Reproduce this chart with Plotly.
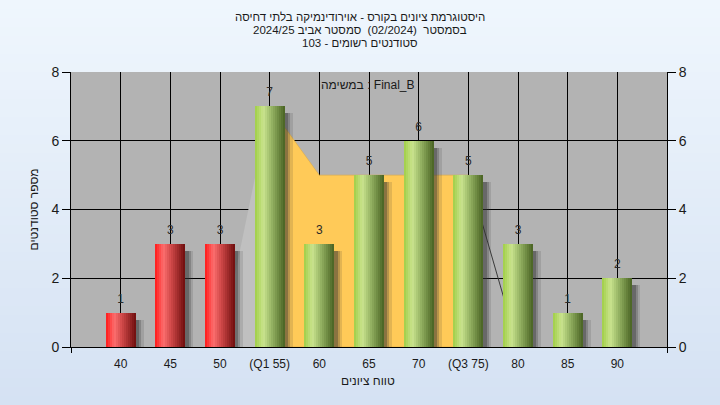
import plotly.graph_objects as go

# ---------------- data ----------------
categories = ["40", "45", "50", "(Q1 55)", "60", "65", "70", "(Q3 75)", "80", "85", "90"]
counts = [1, 3, 3, 7, 3, 5, 6, 5, 3, 1, 2]
bar_group = ["fail", "fail", "fail", "pass", "pass", "pass", "pass", "pass", "pass", "pass", "pass"]
area_vals = [None, None, 0, 7, 5, 5, 5, 5, 0, None, None]
y_ticks = [0, 2, 4, 6, 8]

title_lines = [
    "היסטוגרמת ציונים בקורס - אוירודינמיקה בלתי דחיסה",
    "בסמסטר  (02/2024)  סמסטר אביב 2024/25",
    "סטודנטים רשומים - 103",
]
task_label = "במשימה : Final_B"
x_title = "טווח ציונים"
y_title = "מספר סטודנטים"

# ---------------- layout constants ----------------
W, H = 720, 405
ML, MR, MT, MB = 71, 53, 72, 58
PW, PH = W - ML - MR, H - MT - MB
FONT = "Liberation Sans, Arial, DejaVu Sans, sans-serif"
TXT = "#1a1a1a"

pos = list(range(1, len(categories) + 1))
bar_w = 0.6
N_STRIPS = 15


def lerp(c1, c2, t):
    return tuple(round(a + (b - a) * t) for a, b in zip(c1, c2))


def grad(stops, t):
    for (t0, c0), (t1, c1) in zip(stops, stops[1:]):
        if t0 <= t <= t1:
            return "rgb(%d,%d,%d)" % lerp(c0, c1, (t - t0) / (t1 - t0))
    return "rgb(%d,%d,%d)" % stops[-1][1]


grad_stops = {
    "fail": [(0.0, (255, 25, 25)), (0.28, (252, 110, 110)), (0.55, (205, 70, 70)), (1.0, (110, 14, 14))],
    "pass": [(0.0, (160, 206, 70)), (0.28, (202, 228, 142)), (0.55, (150, 180, 100)), (1.0, (72, 98, 34))],
}

fig = go.Figure()

# ---- shadows ----
for dx, op in [(0.16, 0.14), (0.11, 0.24), (0.07, 0.34)]:
    fig.add_trace(go.Bar(
        x=pos, y=[max(v - 0.2, 0) for v in counts], width=bar_w, offset=-bar_w / 2 + dx,
        marker=dict(color="rgba(50,50,50,%.2f)" % op, line=dict(width=0)),
        hoverinfo="skip", showlegend=False))

# ---- gradient bars ----
sw = bar_w / N_STRIPS
for grp in ["fail", "pass"]:
    gx = [p for p, g in zip(pos, bar_group) if g == grp]
    gy = [c for c, g in zip(counts, bar_group) if g == grp]
    for s in range(N_STRIPS):
        t = (s + 0.5) / N_STRIPS
        fig.add_trace(go.Bar(
            x=gx, y=gy, width=sw * 1.08, offset=-bar_w / 2 + s * sw,
            marker=dict(color=grad(grad_stops[grp], t), line=dict(width=0)),
            hoverinfo="skip", showlegend=False))

# ---- value labels ----
fig.add_trace(go.Scatter(
    x=pos, y=[c + 0.38 for c in counts], text=[str(c) for c in counts],
    mode="text", textfont=dict(family=FONT, size=12, color="#2a2a2a"),
    hoverinfo="skip", showlegend=False))

# invisible trace for right axis
fig.add_trace(go.Scatter(x=[pos[0]], y=[0], yaxis="y2", mode="markers",
                         marker=dict(opacity=0), hoverinfo="skip", showlegend=False))

# ---- background gradient (paper) ----
shapes = []
n_bands = 45
for i in range(n_bands):
    t = i / (n_bands - 1)
    col = "rgb(%d,%d,%d)" % lerp((213, 226, 243), (239, 246, 253), t)
    y1p = H - i * H / n_bands
    y0p = H - (i + 1) * H / n_bands - 0.5
    shapes.append(dict(type="rect", xref="paper", yref="paper",
                       x0=-ML / PW - 0.01, x1=1 + MR / PW + 0.01,
                       y0=(H - MB - y1p) / PH, y1=(H - MB - y0p) / PH,
                       line=dict(width=0), fillcolor=col, layer="below"))
shapes.append(dict(type="rect", xref="x", yref="y", x0=0, x1=len(categories) + 1,
                   y0=0, y1=8, line=dict(width=0), fillcolor="#b3b3b3", layer="below"))

# ---- area (Q1..Q3 band) as shapes between grid and traces ----
idx = [i for i, v in enumerate(area_vals) if v is not None]
first, last = idx[0], idx[-1]
wedge = "M %g,%g L %g,%g L %g,0 Z" % (pos[first], area_vals[first],
                                       pos[first + 1], area_vals[first + 1], pos[first + 1])
shapes.append(dict(type="path", xref="x", yref="y", path=wedge,
                   fillcolor="#c0c0c0", line=dict(width=0), layer="between"))
band = "M %g,0 " % pos[first + 1]
for i in range(first + 1, last):
    band += "L %g,%g " % (pos[i], area_vals[i])
band += "L %g,0 Z" % pos[last - 1]
shapes.append(dict(type="path", xref="x", yref="y", path=band,
                   fillcolor="#ffca58", line=dict(width=0.6, color="#e3ad40"), layer="between"))
shapes.append(dict(type="line", xref="x", yref="y",
                   x0=pos[last - 1], y0=area_vals[last - 1], x1=pos[last], y1=area_vals[last],
                   line=dict(width=1, color="#3a3a3a"), layer="between"))

# ---- annotations ----
ann = []
for i, line in enumerate(title_lines):
    ypix = 17.5 + 12.5 * i
    ann.append(dict(text=line, xref="paper", yref="paper", x=(360 - ML) / PW,
                    y=(H - MB - ypix) / PH, xanchor="center", yanchor="middle",
                    showarrow=False, font=dict(family=FONT, size=11.5, color=TXT)))
ann.append(dict(text=task_label, xref="paper", yref="paper", x=(368 - ML) / PW,
                y=(H - MB - 85) / PH, xanchor="center", yanchor="middle",
                showarrow=False, font=dict(family=FONT, size=12, color=TXT)))
ann.append(dict(text=x_title, xref="paper", yref="paper", x=(368 - ML) / PW,
                y=(H - MB - 381) / PH, xanchor="center", yanchor="middle",
                showarrow=False, font=dict(family=FONT, size=12, color=TXT)))
ann.append(dict(text=y_title, xref="paper", yref="paper", x=(33 - ML) / PW,
                y=0.5, xanchor="center", yanchor="middle", textangle=-90,
                showarrow=False, font=dict(family=FONT, size=12, color=TXT)))

fig.update_layout(
    width=W, height=H,
    margin=dict(l=ML, r=MR, t=MT, b=MB, pad=0),
    paper_bgcolor="#dfeaf7", plot_bgcolor="rgba(0,0,0,0)",
    barmode="overlay", bargap=0, showlegend=False,
    font=dict(family=FONT, size=12, color=TXT),
    shapes=shapes, annotations=ann,
    xaxis=dict(range=[0, len(categories) + 1], tickmode="array", tickvals=pos, ticktext=categories,
               showgrid=True, gridcolor="#000000", gridwidth=1, zeroline=False,
               showline=True, linecolor="#000000", linewidth=1,
               ticks="", ticklabelstandoff=6,
               minor=dict(tickmode="array", tickvals=[0, len(categories) + 1], ticks="outside",
                          ticklen=5, tickcolor="#000000", showgrid=False),
               tickfont=dict(family=FONT, size=12, color=TXT), fixedrange=True),
    yaxis=dict(range=[0, 8], tickmode="array", tickvals=y_ticks,
               showgrid=True, gridcolor="#000000", gridwidth=1, zeroline=False,
               showline=True, linecolor="#000000", linewidth=1,
               ticks="outside", ticklen=8, tickcolor="#000000",
               tickfont=dict(family=FONT, size=14, color=TXT), fixedrange=True),
    yaxis2=dict(range=[0, 8], tickmode="array", tickvals=y_ticks, overlaying="y", side="right",
                showgrid=False, zeroline=False,
                showline=True, linecolor="#000000", linewidth=1,
                ticks="outside", ticklen=8, tickcolor="#000000",
                tickfont=dict(family=FONT, size=14, color=TXT), fixedrange=True),
)

fig.write_html("out.html", post_script="document.body.style.margin='0';",
               config={"displayModeBar": False})
